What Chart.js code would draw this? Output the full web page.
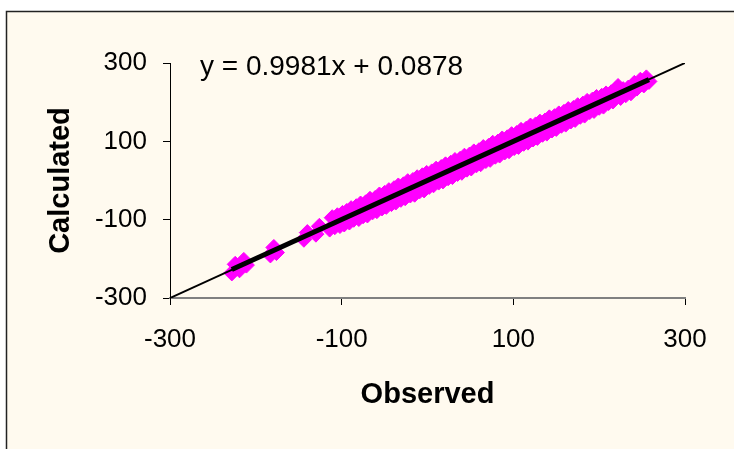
<!DOCTYPE html>
<html>
<head>
<meta charset="utf-8">
<script src="https://cdn.jsdelivr.net/npm/chart.js@4.4.1/dist/chart.umd.min.js"></script>
<style>
  html, body { margin: 0; padding: 0; background: #ffffff; }
  canvas { display: block; }
</style>
</head>
<body>
<canvas id="chart" width="734" height="449"></canvas>
<script>
// Observed vs calculated values
const observed = [
  -228, -224, -219, -214, -211, -183, -179, -176, -144, -140, -130, -126,
  -114, -111, -108, -105, -102, -99, -97, -94, -91, -89, -86, -83, -80, -78,
  -75, -72, -70, -67, -64, -61, -59, -56, -53, -50, -48, -45, -42, -39, -37,
  -34, -31, -28, -26, -23, -20, -17, -15, -12, -9, -6, -4, -1, 2, 5, 7, 10,
  13, 16, 18, 21, 24, 27, 29, 32, 35, 38, 40, 43, 46, 49, 51, 54, 57, 60, 62,
  65, 68, 71, 73, 76, 79, 82, 84, 87, 90, 93, 95, 98, 101, 104, 106, 109,
  112, 115, 117, 120, 123, 126, 128, 131, 134, 137, 139, 142, 145, 148, 150,
  153, 156, 159, 161, 164, 167, 170, 172, 175, 178, 181, 183, 186, 189, 192,
  194, 197, 200, 203, 205, 208, 211, 214, 216, 219, 222, 225, 228, 231, 234,
  237, 241, 244, 248, 252, 255, 258
];
const calculated = [
  -236, -214, -228, -204, -216, -190, -171, -184, -150, -133, -137, -117,
  -124, -95, -118, -90, -115, -84, -111, -79, -106, -72, -99, -67, -97, -60,
  -90, -57, -88, -48, -80, -46, -77, -37, -70, -33, -66, -26, -59, -21, -55,
  -14, -48, -11, -44, -3, -37, 0, -35, 7, -26, 12, -24, 18, -15, 22, -11, 29,
  -4, 33, -1, 40, 7, 44, 10, 51, 18, 54, 21, 62, 29, 65, 32, 73, 40, 76, 43,
  84, 51, 87, 54, 95, 62, 98, 65, 106, 73, 109, 76, 117, 84, 120, 87, 128,
  95, 131, 98, 139, 106, 142, 110, 149, 118, 152, 121, 160, 129, 163, 133,
  170, 141, 174, 144, 181, 152, 184, 156, 191, 164, 195, 167, 202, 176, 205,
  179, 212, 187, 215, 190, 221, 199, 224, 203, 232, 240, 212, 232, 219, 236,
  224, 248, 236, 256, 244, 262, 253
];
const tickValues = [-300, -100, 100, 300];

// Fitted trend line: y = slope * x + intercept
const slope = 0.9981;
const intercept = 0.0878;
const equationText = 'y = 0.9981x + 0.0878';

const points = observed.map((x, i) => ({ x: x, y: calculated[i] }));
const xMin = Math.min(...observed);
const xMax = Math.max(...observed);
const trend = [
  { x: xMin, y: slope * xMin + intercept },
  { x: xMax, y: slope * xMax + intercept }
];
const identity = [
  { x: tickValues[0], y: tickValues[0] },
  { x: tickValues[tickValues.length - 1], y: tickValues[tickValues.length - 1] }
];

const FONT = "'Liberation Sans', Arial, sans-serif";

// Cream panel with a dark frame behind the chart, and the equation label
const framePlugin = {
  id: 'frame',
  beforeDraw(chart) {
    const ctx = chart.ctx;
    ctx.save();
    ctx.fillStyle = '#ffffff';
    ctx.fillRect(0, 0, chart.width, chart.height);
    ctx.fillStyle = '#fffaef';
    ctx.fillRect(6, 11, chart.width, chart.height);
    ctx.strokeStyle = '#222222';
    ctx.lineWidth = 1.5;
    ctx.strokeRect(6.5, 11.5, chart.width + 20, chart.height + 20);
    ctx.restore();
  },
  afterDraw(chart) {
    const ctx = chart.ctx;
    ctx.save();
    ctx.fillStyle = '#000000';
    ctx.font = '28px ' + FONT;
    ctx.textAlign = 'left';
    ctx.textBaseline = 'middle';
    ctx.fillText(equationText, 200, 67);
    ctx.restore();
  }
};

new Chart(document.getElementById('chart'), {
  type: 'scatter',
  data: {
    datasets: [
      {
        type: 'line',
        data: trend,
        borderColor: '#000000',
        borderWidth: 5,
        pointRadius: 0,
        showLine: true,
        fill: false
      },
      {
        type: 'line',
        data: identity,
        borderColor: '#000000',
        borderWidth: 2,
        pointRadius: 0,
        showLine: true,
        fill: false
      },
      {
        data: points,
        pointStyle: 'rectRot',
        pointRadius: 8,
        backgroundColor: '#ff00ff',
        borderColor: '#ff00ff',
        borderWidth: 1
      }
    ]
  },
  options: {
    responsive: false,
    animation: false,
    devicePixelRatio: 1,
    layout: { padding: { left: 0, top: 63, right: 49, bottom: 0 } },
    plugins: {
      legend: { display: false },
      tooltip: { enabled: false }
    },
    scales: {
      x: {
        type: 'linear',
        min: -300,
        max: 300,
        afterBuildTicks(scale) { scale.ticks = tickValues.map(v => ({ value: v })); },
        afterFit(scale) { scale.height = 151; },
        border: { display: true, color: '#808080', width: 2 },
        grid: { drawOnChartArea: false, drawTicks: true, tickLength: 7, tickColor: '#000000' },
        ticks: { color: '#000000', font: { family: FONT, size: 26 }, padding: 19, maxRotation: 0 },
        title: {
          display: true,
          text: 'Observed',
          color: '#000000',
          font: { family: FONT, size: 29, weight: 'bold' },
          padding: { top: 0, bottom: 37 }
        }
      },
      y: {
        type: 'linear',
        min: -300,
        max: 300,
        afterBuildTicks(scale) { scale.ticks = tickValues.map(v => ({ value: v })); },
        afterFit(scale) { scale.width = 170; },
        border: { display: true, color: '#000000', width: 1 },
        grid: { drawOnChartArea: false, drawTicks: true, tickLength: 7, tickColor: '#000000' },
        ticks: { color: '#000000', font: { family: FONT, size: 26 }, padding: 16 },
        title: {
          display: true,
          text: 'Calculated',
          color: '#000000',
          font: { family: FONT, size: 29, weight: 'bold' },
          padding: { top: 44, bottom: 0 }
        }
      }
    }
  },
  plugins: [framePlugin]
});
</script>
</body>
</html>
